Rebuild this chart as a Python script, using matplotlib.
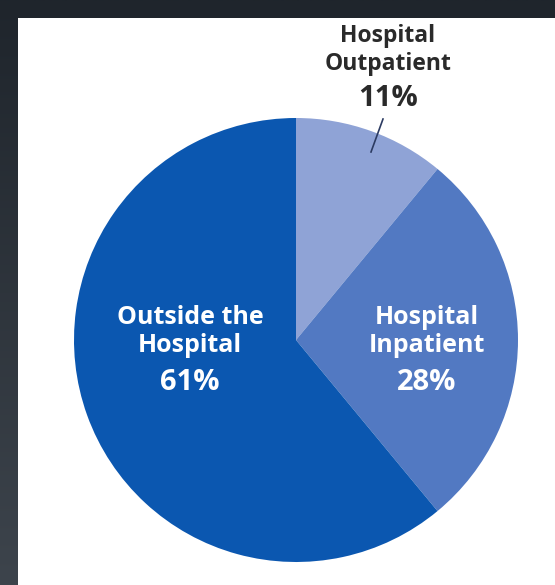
import matplotlib
matplotlib.use('Agg')
import matplotlib.pyplot as plt
import numpy as np
from matplotlib.patches import Rectangle

# data
categories = ['Hospital Outpatient', 'Hospital Inpatient', 'Outside the Hospital']
shares = [11, 28, 61]
colors = ['#8fa3d6', '#5279c2', '#0b57b0']

W, H = 555, 585
FONT = 'Open Sans'


def Y(y):
    # image row -> data y
    return H - y


fig = plt.figure(figsize=(W / 100, H / 100), dpi=100)
ax = fig.add_axes([0, 0, 1, 1])

# dark gradient frame behind the white panel
grad = np.linspace(0, 1, 256).reshape(-1, 1)
cmap = matplotlib.colors.LinearSegmentedColormap.from_list('bg', ['#3d444c', '#1f252c'])
ax.imshow(grad, extent=(0, W, 0, H), cmap=cmap, aspect='auto', origin='lower', zorder=0)
ax.add_patch(Rectangle((18, 0), W - 18, Y(18), facecolor='white', edgecolor='none', zorder=0.5))

ax.pie(shares, colors=colors, startangle=90, counterclock=False,
       center=(296, Y(340)), radius=222, wedgeprops=dict(linewidth=0, zorder=1))
ax.set_xlim(0, W)
ax.set_ylim(0, H)
ax.set_aspect('equal')
ax.axis('off')

name_size = 18
pct_size = 21
white = dict(color='white', fontweight='bold', family=FONT, fontsize=name_size,
             ha='center', va='center', zorder=3)
dark = dict(white, color='#2a2a2a', fontsize=16.5)

# Outpatient label above the pie
ax.text(388, Y(36), 'Hospital', **dark)
ax.text(388, Y(64), 'Outpatient', **dark)
ax.text(388, Y(99), f'{shares[0]}%', **{**dark, 'fontsize': pct_size})
ax.plot([383, 371], [Y(119), Y(152)], color='#2c3b62', lw=1.2, zorder=3)

# Inpatient
ax.text(427, Y(317), 'Hospital', **white)
ax.text(427, Y(345), 'Inpatient', **white)
ax.text(427, Y(382), f'{shares[1]}%', **{**white, 'fontsize': pct_size})

# Outside
ax.text(190, Y(317), 'Outside the', **white)
ax.text(190, Y(345), 'Hospital', **white)
ax.text(190, Y(382), f'{shares[2]}%', **{**white, 'fontsize': pct_size})

fig.savefig('out.png', dpi=100)
